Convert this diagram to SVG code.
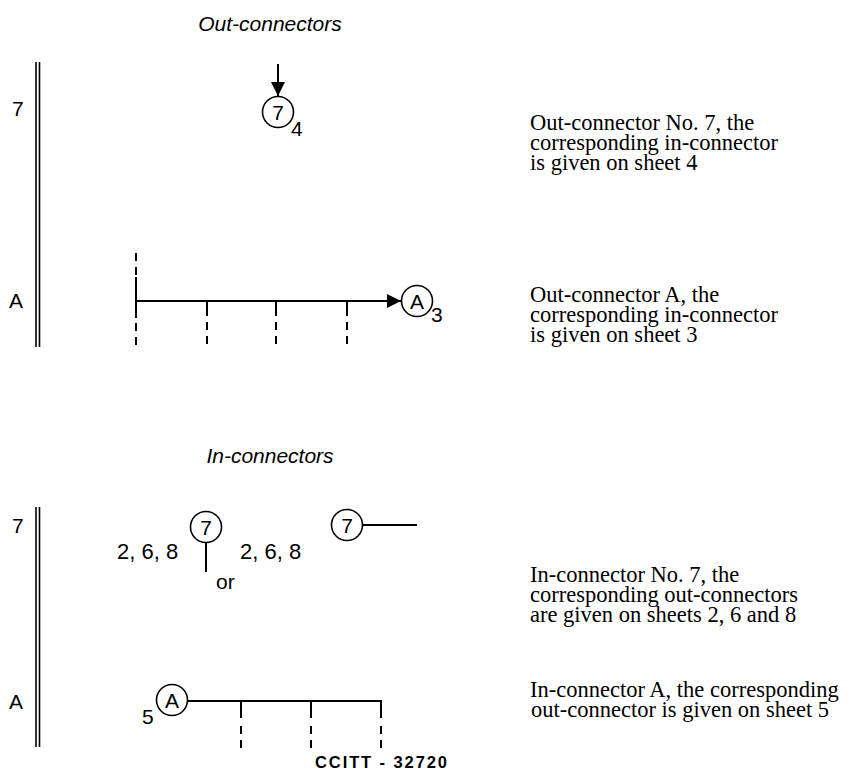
<svg xmlns="http://www.w3.org/2000/svg" width="856" height="771" viewBox="0 0 856 771">
<style>
.bg{fill:#fff}
.ln{stroke:#000;stroke-width:2;fill:none}
.dl{stroke:#000;stroke-width:1.6;fill:none}
.ds{stroke:#000;stroke-width:2;fill:none;stroke-dasharray:8 6}
.cir{stroke:#000;stroke-width:1.6;fill:#fff}
.s{font-family:"Liberation Sans",Arial,sans-serif;font-size:21px;fill:#000}
.n{font-size:22px}
.c{text-anchor:middle}
.it{font-style:italic}
.r{font-family:"Liberation Serif","Times New Roman",serif;font-size:22.5px;fill:#000}
.b{font-family:"Liberation Sans",Arial,sans-serif;font-size:16.5px;font-weight:bold;fill:#000}
</style>
<defs>
<marker id="ah" viewBox="0 0 10 10" refX="10" refY="5" markerWidth="15" markerHeight="14" markerUnits="userSpaceOnUse" orient="auto">
<path d="M0,0 L10,5 L0,10 z" fill="#000"/>
</marker>
</defs>
<rect class="bg" x="0" y="0" width="856" height="771"/>

<g id="headings">
<text class="s it c" x="270" y="31">Out-connectors</text>
<text class="s it c" x="270" y="463">In-connectors</text>
</g>

<g id="margins">
<line class="dl" x1="36" y1="62" x2="36" y2="347"/>
<line class="dl" x1="39.5" y1="62" x2="39.5" y2="347"/>
<line class="dl" x1="36" y1="507" x2="36" y2="747"/>
<line class="dl" x1="39.5" y1="507" x2="39.5" y2="747"/>
<text class="s" x="12" y="116">7</text>
<text class="s" x="9" y="308">A</text>
<text class="s" x="12" y="533">7</text>
<text class="s" x="9" y="709">A</text>
</g>

<g id="connectors">
<line class="ln" x1="278" y1="64" x2="278" y2="96" marker-end="url(#ah)"/>
<line class="ln" x1="136" y1="301" x2="401" y2="301" marker-end="url(#ah)"/>
<line class="ds" x1="136" y1="253" x2="136" y2="277"/>
<line class="ln" x1="136" y1="277" x2="136" y2="318"/>
<line class="ds" x1="136" y1="323" x2="136" y2="347"/>
<line class="ln" x1="207" y1="301" x2="207" y2="316"/>
<line class="ds" x1="207" y1="322" x2="207" y2="347"/>
<line class="ln" x1="276" y1="301" x2="276" y2="316"/>
<line class="ds" x1="276" y1="322" x2="276" y2="347"/>
<line class="ln" x1="347" y1="301" x2="347" y2="316"/>
<line class="ds" x1="347" y1="322" x2="347" y2="347"/>
<line class="ln" x1="206" y1="542" x2="206" y2="572"/>
<line class="ln" x1="362" y1="525" x2="417" y2="525"/>
<path class="ln" d="M187,701 H381 V718"/>
<line class="ln" x1="241" y1="701" x2="241" y2="718"/>
<line class="ln" x1="311" y1="701" x2="311" y2="718"/>
<line class="ds" x1="241" y1="726" x2="241" y2="748"/>
<line class="ds" x1="311" y1="726" x2="311" y2="748"/>
<line class="ds" x1="381" y1="726" x2="381" y2="748"/>
</g>

<g id="out7">
<circle class="cir" cx="278" cy="112" r="15.5"/>
<text class="s c" x="278" y="119.5">7</text>
<text class="s" x="291" y="136">4</text>
</g>

<g id="outA">
<circle class="cir" cx="417" cy="301" r="15.5"/>
<text class="s c" x="417" y="308.5">A</text>
<text class="s" x="431" y="322">3</text>
</g>

<g id="in7a">
<circle class="cir" cx="206" cy="527" r="15.5"/>
<text class="s c" x="206" y="534.5">7</text>
<text class="s n" x="117" y="559">2, 6, 8</text>
<text class="s" x="216" y="589">or</text>
</g>

<g id="in7b">
<text class="s n" x="240" y="559">2, 6, 8</text>
<circle class="cir" cx="347" cy="525" r="15.5"/>
<text class="s c" x="347" y="532.5">7</text>
</g>

<g id="inA">
<circle class="cir" cx="172" cy="700" r="15.5"/>
<text class="s c" x="172" y="707.5">A</text>
<text class="s" x="142" y="724">5</text>
</g>

<g id="descriptions">
<text class="r" x="530" y="130">Out-connector No. 7, the</text>
<text class="r" x="530" y="150">corresponding in-connector</text>
<text class="r" x="530" y="170">is given on sheet 4</text>
<text class="r" x="530" y="302">Out-connector A, the</text>
<text class="r" x="530" y="322">corresponding in-connector</text>
<text class="r" x="530" y="342">is given on sheet 3</text>
<text class="r" x="530" y="582">In-connector No. 7, the</text>
<text class="r" x="530" y="602">corresponding out-connectors</text>
<text class="r" x="530" y="622">are given on sheets 2, 6 and 8</text>
<text class="r" x="530" y="697">In-connector A, the corresponding</text>
<text class="r" x="531" y="717">out-connector is given on sheet 5</text>
</g>

<g id="code">
<text class="b" x="315" y="768" textLength="132" lengthAdjust="spacing">CCITT - 32720</text>
</g>
</svg>
